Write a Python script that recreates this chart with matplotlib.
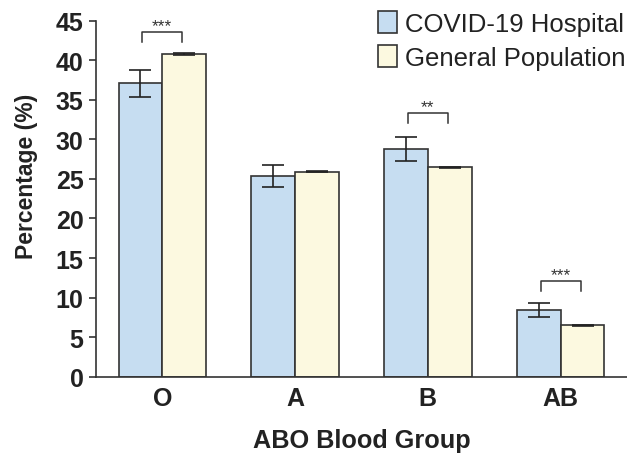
import numpy as np
import matplotlib.pyplot as plt

plt.rcParams['font.family'] = ['Liberation Sans', 'DejaVu Sans']

groups = ['O', 'A', 'B', 'AB']
hospital = [37.1, 25.4, 28.8, 8.4]
hospital_err = [1.7, 1.4, 1.5, 0.9]
general = [40.8, 25.9, 26.5, 6.5]
general_err = [0.08, 0.06, 0.06, 0.06]

# significance brackets: group index, bracket top, label
sig_idx = [0, 2, 3]
sig_top = [43.6, 33.4, 12.1]
sig_label = ['***', '**', '***']

blue = '#c6ddf1'
yellow = '#fcf9e0'
edge = '#333333'

x = np.arange(len(groups))
w = 0.33

fig = plt.figure(figsize=(6.27, 4.56), dpi=100)
ax = fig.add_axes([0.153, 0.172, 0.847, 0.78])

ax.bar(x - w/2, hospital, w, color=blue, edgecolor=edge, linewidth=1.2,
       yerr=hospital_err, error_kw=dict(ecolor='#222222', elinewidth=1.2, capsize=8, capthick=1.2),
       label='COVID-19 Hospital', zorder=2)
ax.bar(x + w/2, general, w, color=yellow, edgecolor=edge, linewidth=1.2,
       yerr=general_err, error_kw=dict(ecolor='#222222', elinewidth=1.2, capsize=8, capthick=1.2),
       label='General Population', zorder=2)

for i, top, lab in zip(sig_idx, sig_top, sig_label):
    x0, x1 = x[i] - 0.15, x[i] + 0.15
    ax.plot([x0, x0, x1, x1], [top - 1.3, top, top, top - 1.3], color='#333333', lw=1.1)
    ax.text(x[i], top - 0.2, lab, ha='center', va='bottom', fontsize=12.5, color='#333333')

ax.set_xlim(-0.5, 3.5)
ax.set_ylim(0, 45)
ax.set_yticks(np.arange(0, 46, 5))
ax.set_xticks(x)
ax.set_xticklabels(groups)
ax.tick_params(axis='y', direction='out', length=5, width=1.2, color=edge, labelsize=18, pad=4)
ax.tick_params(axis='x', length=0, labelsize=18, pad=7)
for lab in ax.get_xticklabels() + ax.get_yticklabels():
    lab.set_fontweight('bold')
    lab.set_color('#222222')

for s in ['top', 'right']:
    ax.spines[s].set_visible(False)
for s in ['left', 'bottom']:
    ax.spines[s].set_color(edge)
    ax.spines[s].set_linewidth(1.2)

ax.set_ylabel('Percentage (%)', fontsize=16.5, fontweight='bold', color='#222222')
ax.yaxis.set_label_coords(-0.11, 0.565)
ax.set_xlabel('ABO Blood Group', fontsize=18.2, fontweight='bold', color='#222222', labelpad=13)

leg = ax.legend(loc='upper right', bbox_to_anchor=(1.035, 1.085), frameon=False, fontsize=18.5,
                handlelength=0.75, handleheight=0.95, handletextpad=0.3, labelspacing=0.35,
                borderpad=0.3)
for t in leg.get_texts():
    t.set_color('#222222')

fig.savefig('out.png', dpi=100)
